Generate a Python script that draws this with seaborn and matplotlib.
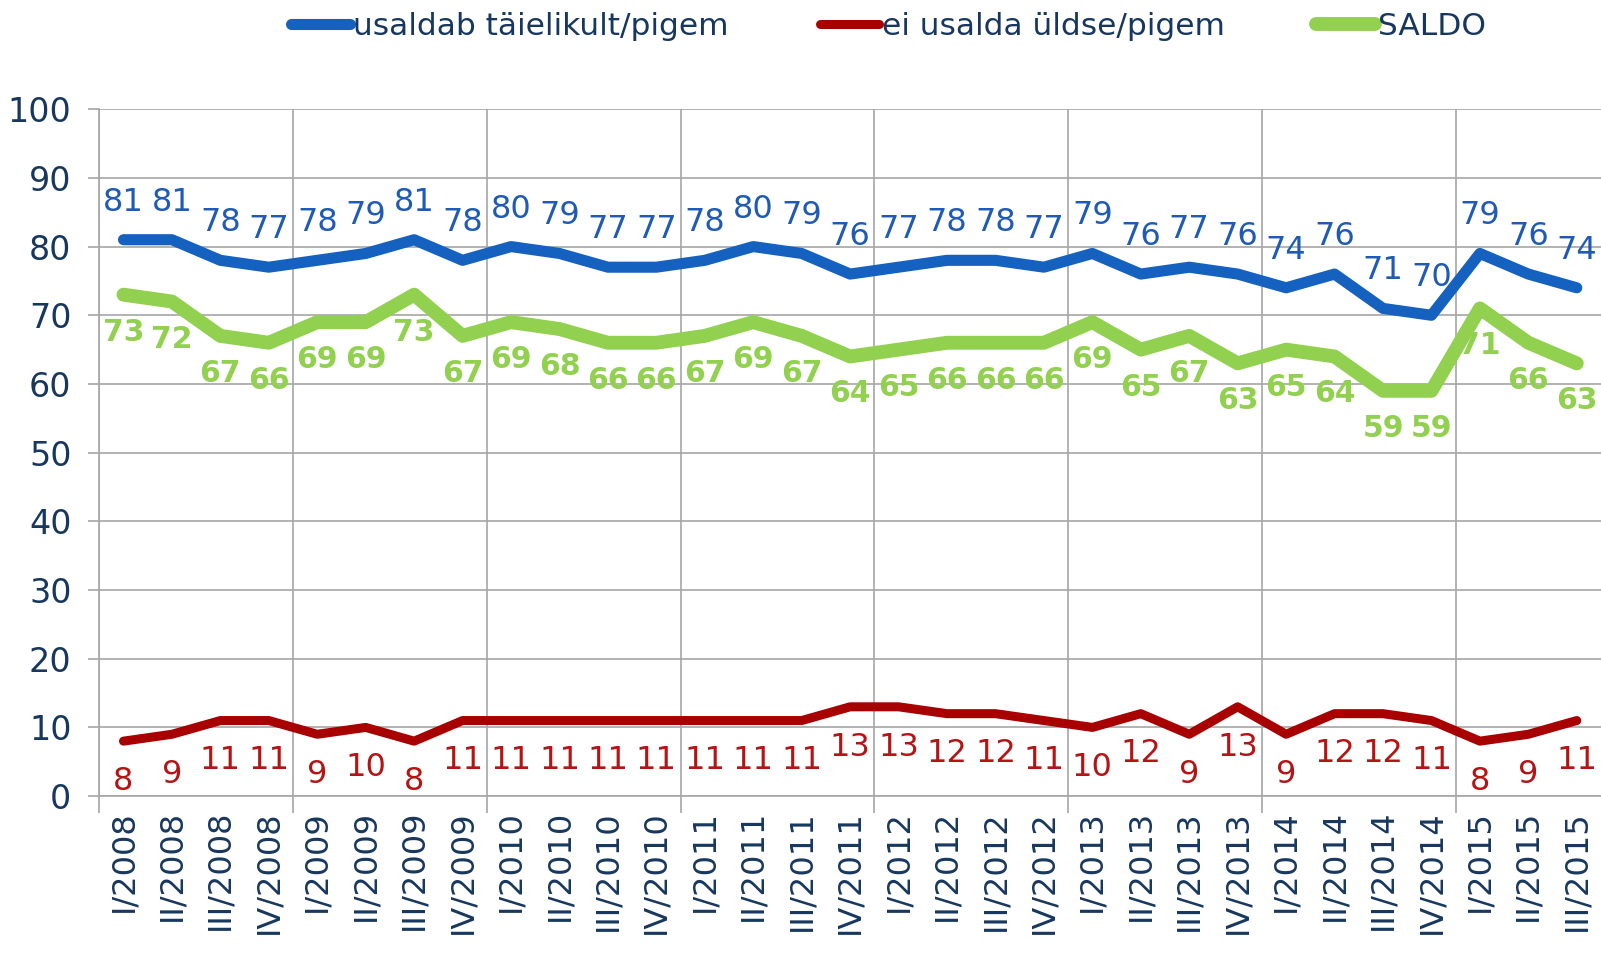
import matplotlib
matplotlib.use('Agg')
import matplotlib.pyplot as plt
import seaborn as sns
import pandas as pd
import numpy as np

kvartalid = ['I/2008', 'II/2008', 'III/2008', 'IV/2008',
             'I/2009', 'II/2009', 'III/2009', 'IV/2009',
             'I/2010', 'II/2010', 'III/2010', 'IV/2010',
             'I/2011', 'II/2011', 'III/2011', 'IV/2011',
             'I/2012', 'II/2012', 'III/2012', 'IV/2012',
             'I/2013', 'II/2013', 'III/2013', 'IV/2013',
             'I/2014', 'II/2014', 'III/2014', 'IV/2014',
             'I/2015', 'II/2015', 'III/2015']

usaldab = [81, 81, 78, 77, 78, 79, 81, 78, 80, 79, 77, 77, 78, 80, 79, 76,
           77, 78, 78, 77, 79, 76, 77, 76, 74, 76, 71, 70, 79, 76, 74]
ei_usalda = [8, 9, 11, 11, 9, 10, 8, 11, 11, 11, 11, 11, 11, 11, 11, 13,
             13, 12, 12, 11, 10, 12, 9, 13, 9, 12, 12, 11, 8, 9, 11]
saldo = [73, 72, 67, 66, 69, 69, 73, 67, 69, 68, 66, 66, 67, 69, 67, 64,
         65, 66, 66, 66, 69, 65, 67, 63, 65, 64, 59, 59, 71, 66, 63]

nimed = ['usaldab täielikult/pigem', 'ei usalda üldse/pigem', 'SALDO']

sinine = '#1561C0'
punane = '#A80000'
roheline = '#92D050'
tekst = '#17375E'
ruudustik = '#A6A6A6'

sns.set_theme(style='white')
plt.rcParams['font.family'] = ['DejaVu Sans']

df = pd.DataFrame({'kvartal': kvartalid, 'usaldab': usaldab,
                   'ei_usalda': ei_usalda, 'saldo': saldo})

fig = plt.figure(figsize=(16.01, 9.58), dpi=100)
ax = fig.add_axes([0.062, 0.169, 0.938, 0.717])

joon = dict(sort=False, solid_capstyle='round', solid_joinstyle='round')
sns.lineplot(data=df, x='kvartal', y='usaldab', ax=ax, color=sinine, lw=8,
             label=nimed[0], **joon)
sns.lineplot(data=df, x='kvartal', y='ei_usalda', ax=ax, color=punane, lw=6.5,
             label=nimed[1], **joon)
sns.lineplot(data=df, x='kvartal', y='saldo', ax=ax, color=roheline, lw=10,
             label=nimed[2], **joon)

# andmesildid
for k, v in zip(kvartalid, usaldab):
    ax.annotate(str(v), (k, v), xytext=(0, 27), textcoords='offset points',
                ha='center', va='center', fontsize=23, color='#1F5AB4')
for k, v in zip(kvartalid, saldo):
    ax.annotate(str(v), (k, v), xytext=(0, -27), textcoords='offset points',
                ha='center', va='center', fontsize=21.5, color=roheline,
                fontweight='bold')
for k, v in zip(kvartalid, ei_usalda):
    ax.annotate(str(v), (k, v), xytext=(0, -29), textcoords='offset points',
                ha='center', va='center', fontsize=23, color='#B41414')

ax.set_xlim(-0.5, len(kvartalid) - 0.5)
ax.set_ylim(0, 100)
ax.set_yticks(range(0, 101, 10))
ax.set_xticks(np.arange(-0.5, len(kvartalid), 4), minor=True)
ax.set_xlabel('')
ax.set_ylabel('')

ax.tick_params(axis='x', which='major', length=0, pad=10, labelsize=23,
               labelcolor=tekst, labelrotation=90)
ax.tick_params(axis='x', which='minor', length=12, width=1.2, color=ruudustik,
               bottom=True)
ax.tick_params(axis='y', length=8, width=1.2, color=ruudustik, left=True,
               labelsize=24, labelcolor=tekst, pad=12)

ax.yaxis.grid(True, color=ruudustik, lw=1.2)
ax.xaxis.grid(True, which='minor', color=ruudustik, lw=1.2)
ax.xaxis.grid(False, which='major')
ax.set_axisbelow(True)

for s in ['top', 'right']:
    ax.spines[s].set_visible(False)
for s in ['left', 'bottom']:
    ax.spines[s].set_color(ruudustik)
    ax.spines[s].set_linewidth(1.2)

handles, labels = ax.get_legend_handles_labels()
ax.get_legend().remove()
fig.legend(handles, labels, loc='center', bbox_to_anchor=(0.555, 0.972),
           ncol=3, frameon=False, fontsize=22.5, handlelength=1.9,
           handletextpad=0.1, columnspacing=2.9, labelcolor=tekst)

fig.savefig('out.png', dpi=100)
